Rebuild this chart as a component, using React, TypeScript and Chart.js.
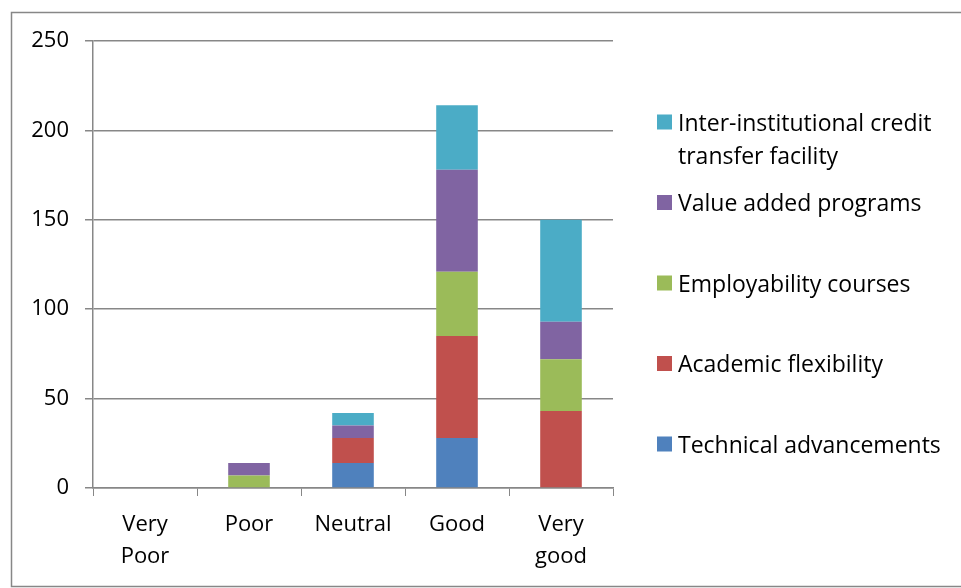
import React, { useEffect, useRef } from "react";
import { Chart, registerables } from "chart.js";
Chart.register(...registerables);

const categories: (string | string[])[] = [["Very", "Poor"], "Poor", "Neutral", "Good", ["Very", "good"]];
const technicalAdvancements = [0, 0, 14, 28, 0];
const academicFlexibility = [0, 0, 14, 57, 43];
const employabilityCourses = [0, 7, 0, 36, 29];
const valueAddedPrograms = [0, 7, 7, 57, 21];
const interInstitutionalCredit = [0, 0, 7, 36, 57];
const yMin = 0;
const yMax = 250;
const yStep = 50;

const FONT = "'Open Sans', Calibri, sans-serif";
const GRAY = "#878787";

const seriesDefs = [
  { label: ["Technical advancements"], data: technicalAdvancements, color: "#4F81BD" },
  { label: ["Academic flexibility"], data: academicFlexibility, color: "#C0504D" },
  { label: ["Employability courses"], data: employabilityCourses, color: "#9BBB59" },
  { label: ["Value added programs"], data: valueAddedPrograms, color: "#8064A2" },
  { label: ["Inter-institutional credit", "transfer facility"], data: interInstitutionalCredit, color: "#4BACC6" },
];

const frameAndLegend = {
  id: "frameAndLegend",
  beforeDraw(chart: any) {
    const ctx = chart.ctx;
    ctx.save();
    ctx.fillStyle = "#ffffff";
    ctx.fillRect(0, 0, chart.width, chart.height);
    ctx.strokeStyle = GRAY;
    ctx.lineWidth = 1.5;
    ctx.strokeRect(11.5, 12.5, 1000, 574);
    ctx.restore();
  },
  afterDraw(chart: any) {
    const ctx = chart.ctx;
    ctx.save();
    ctx.font = `23px ${FONT}`;
    ctx.textBaseline = "middle";
    ctx.textAlign = "left";
    const items = [...chart.data.datasets].reverse();
    const firstY = 122;
    const gap = 80.5;
    const lineGap = 33;
    items.forEach((ds: any, i: number) => {
      const yc = firstY + i * gap;
      ctx.fillStyle = ds.backgroundColor;
      ctx.fillRect(657, yc - 7.5, 15, 15);
      ctx.fillStyle = "#000000";
      const lines: string[] = Array.isArray(ds.legendText) ? ds.legendText : [ds.legendText];
      lines.forEach((t, j) => ctx.fillText(t, 678, yc + 2 + j * lineGap));
    });
    ctx.restore();
  },
};

export default function App() {
  const ref = useRef<HTMLCanvasElement>(null);
  useEffect(() => {
    if (!ref.current) return;
    const chart = new Chart(ref.current, {
      type: "bar",
      data: {
        labels: categories,
        datasets: seriesDefs.map((s) => ({
          label: s.label.join(" "),
          legendText: s.label,
          data: s.data,
          backgroundColor: s.color,
          borderWidth: 0,
          barPercentage: 0.4,
          categoryPercentage: 1,
        })) as any,
      },
      options: {
        responsive: false,
        animation: false,
        devicePixelRatio: 1,
        layout: { padding: { left: 0, top: 41, right: 348, bottom: 0 } },
        plugins: { legend: { display: false }, tooltip: { enabled: false } },
        scales: {
          x: {
            stacked: true,
            afterFit: (s: any) => { s.height = 100; },
            grid: { drawOnChartArea: false, drawTicks: true, tickLength: 8, color: GRAY, offset: true },
            border: { color: GRAY, width: 1.5 },
            ticks: { color: "#000", font: { family: FONT, size: 22, lineHeight: 1.45 }, padding: 13, maxRotation: 0, autoSkip: false },
          },
          y: {
            stacked: true,
            min: yMin,
            max: yMax,
            afterFit: (s: any) => { s.width = 93; },
            grid: { color: GRAY, lineWidth: 1.5, tickLength: 8, drawTicks: true },
            border: { color: GRAY, width: 1.5 },
            ticks: { stepSize: yStep, color: "#000", font: { family: FONT, size: 22 }, padding: 16 },
          },
        },
      },
      plugins: [frameAndLegend],
    });
    return () => chart.destroy();
  }, []);
  return (
    <div style={{ position: "fixed", left: 0, top: 0, width: 961, height: 588, background: "#fff" }}>
      <canvas ref={ref} width={961} height={588} />
    </div>
  );
}
